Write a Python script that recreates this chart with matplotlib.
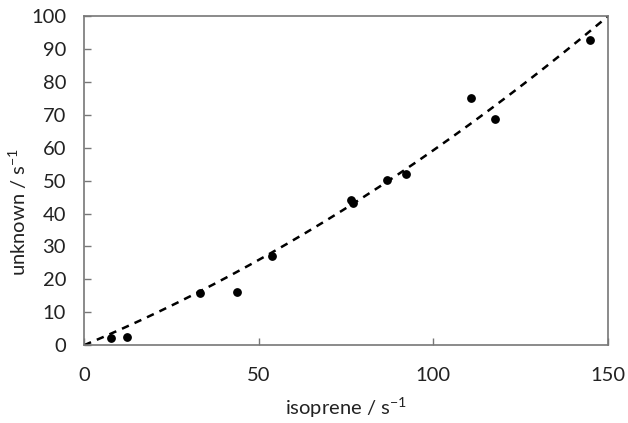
import numpy as np
import matplotlib
matplotlib.use('Agg')
import matplotlib.pyplot as plt

plt.rcParams['font.family'] = ['Lato', 'DejaVu Sans']
plt.rcParams['mathtext.default'] = 'regular'

isoprene = [7.8, 12.4, 33.2, 43.9, 53.8, 76.5, 77.0, 86.8, 92.2, 110.8, 117.8, 144.9]
unknown = [2.1, 2.6, 15.8, 16.2, 27.0, 44.2, 43.2, 50.3, 51.9, 75.1, 68.8, 92.6]

# quadratic trendline coefficients (highest power first)
fit_coeffs = [0.001482, 0.444, 0.0]

fig = plt.figure(figsize=(6.28, 4.23), dpi=100)
ax = fig.add_axes([0.134, 0.184, 0.834, 0.778])

xs = np.linspace(0, 150, 200)
ax.plot(xs, np.polyval(fit_coeffs, xs), color='black', linestyle=(0, (3, 2.5)), linewidth=1.8)
ax.scatter(isoprene, unknown, s=28, color='black', zorder=3)

ax.set_xlim(0, 150)
ax.set_ylim(0, 100)
ax.set_xticks([0, 50, 100, 150])
ax.set_yticks(range(0, 101, 10))
ax.tick_params(direction='in', length=5, width=1, color='#777777', labelsize=14.5, colors='#222222')
ax.tick_params(axis='x', pad=16)
ax.tick_params(axis='y', pad=13)
for sp in ax.spines.values():
    sp.set_color('#777777')
    sp.set_linewidth(1.2)

ax.set_xlabel('isoprene / s$^{-1}$', fontsize=14.5, color='#222222')
ax.set_ylabel('unknown / s$^{-1}$', fontsize=14.5, color='#222222')
ax.xaxis.set_label_coords(0.5, -0.155, transform=ax.transAxes)
ax.yaxis.set_label_coords(29 / 628, 0.5, transform=fig.transFigure)

fig.savefig('out.png', dpi=100)
